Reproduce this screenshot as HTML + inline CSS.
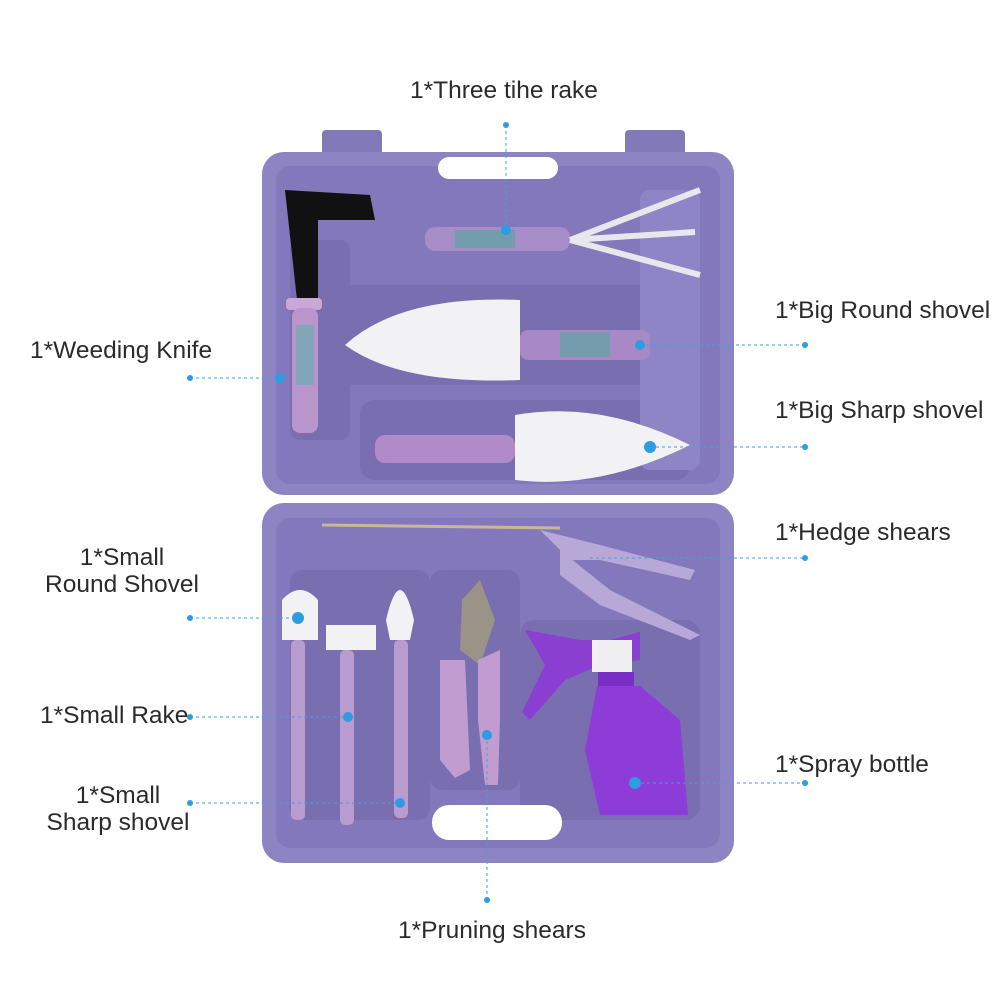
<!DOCTYPE html>
<html><head><meta charset="utf-8"><style>
html,body{margin:0;padding:0;background:#fff;}
.wrap{position:relative;width:1000px;height:1000px;overflow:hidden;font-family:"Liberation Sans",Arial,sans-serif;}
.lb{position:absolute;font-size:24.5px;color:#2b2b2b;line-height:27px;white-space:nowrap;}
</style></head><body><div class="wrap">
<svg width="1000" height="1000" viewBox="0 0 1000 1000" style="position:absolute;left:0;top:0">
<rect x="322" y="130" width="60" height="40" rx="4" fill="#8279b8"/>
<rect x="625" y="130" width="60" height="40" rx="4" fill="#8279b8"/>
<rect x="262" y="152" width="472" height="343" rx="22" fill="#8d84c4"/>
<rect x="276" y="166" width="444" height="318" rx="14" fill="#8278bb"/>
<rect x="438" y="157" width="120" height="22" rx="11" fill="#fff"/>
<rect x="290" y="240" width="60" height="200" rx="10" fill="#786eb0"/>
<rect x="335" y="285" width="340" height="100" rx="18" fill="#786eb0"/>
<rect x="360" y="400" width="330" height="80" rx="14" fill="#786eb0"/>
<rect x="640" y="190" width="60" height="280" rx="10" fill="#8e85c6"/>
<rect x="262" y="503" width="472" height="360" rx="22" fill="#8d84c4"/>
<rect x="276" y="518" width="444" height="330" rx="14" fill="#8278bb"/>
<rect x="290" y="570" width="140" height="250" rx="12" fill="#786eb0"/>
<rect x="430" y="570" width="90" height="220" rx="12" fill="#786eb0"/>
<rect x="520" y="620" width="180" height="200" rx="14" fill="#786eb0"/>
<rect x="432" y="805" width="130" height="35" rx="17" fill="#fff"/>
<path d="M285 190 L370 195 L375 220 L318 220 L318 300 L297 300 Z" fill="#111"/>
<rect x="286" y="298" width="36" height="12" rx="4" fill="#c9a8d8"/>
<rect x="292" y="308" width="26" height="125" rx="8" fill="#b896cc"/>
<rect x="296" y="325" width="18" height="60" fill="#5ab0a8" opacity=".6"/>
<rect x="425" y="227" width="145" height="24" rx="10" fill="#a88cc8"/>
<rect x="455" y="230" width="60" height="18" fill="#4fa89a" opacity=".6"/>
<path d="M570 240 L700 190 M570 240 L695 232 M570 240 L700 275" stroke="#e8e8ec" stroke-width="6" fill="none"/>
<path d="M345 345 Q400 295 520 300 L520 380 Q400 385 345 345 Z" fill="#f2f2f5"/>
<rect x="520" y="330" width="130" height="30" rx="8" fill="#a889c6"/>
<rect x="560" y="332" width="50" height="25" fill="#53a99b" opacity=".6"/>
<path d="M515 415 Q600 400 690 445 Q600 490 515 480 Z" fill="#f2f2f5"/>
<rect x="375" y="435" width="140" height="28" rx="10" fill="#b08bc8"/>
<line x1="322" y1="525" x2="560" y2="528" stroke="#c8b89a" stroke-width="3"/>
<path d="M540 530 L600 545 L695 570 L690 580 L600 560 L570 560 Z" fill="#b7a8d8"/>
<path d="M560 550 L610 590 L700 635 L690 640 L600 605 L560 575 Z" fill="#b7a8d8"/>
<path d="M282 600 Q300 580 318 600 L318 640 L282 640 Z" fill="#f2f2f5"/>
<rect x="291" y="640" width="14" height="180" rx="5" fill="#b89ccf"/>
<rect x="326" y="625" width="50" height="25" fill="#f2f2f5"/>
<rect x="340" y="650" width="14" height="175" rx="5" fill="#b89ccf"/>
<path d="M386 620 Q400 560 414 620 L410 640 L390 640 Z" fill="#f2f2f5"/>
<rect x="394" y="640" width="14" height="178" rx="5" fill="#b89ccf"/>
<path d="M462 600 L480 580 L495 620 L480 665 L460 650 Z" fill="#9a9488"/>
<path d="M440 660 L465 660 L470 770 L455 778 L440 760 Z" fill="#c19cd0"/>
<path d="M478 660 L500 650 L500 720 L498 785 L485 785 L478 720 Z" fill="#c19cd0"/>
<path d="M525 630 L580 640 L610 640 L640 632 L640 660 L600 665 L565 680 L530 720 L522 712 L545 665 Z" fill="#8a3fd0"/>
<rect x="592" y="640" width="40" height="32" fill="#f0f0f2"/>
<rect x="598" y="672" width="36" height="14" fill="#7a2ec8"/>
<path d="M597 686 L640 686 L680 720 L688 815 L600 815 L585 750 Z" fill="#8e3cd8"/>
<g stroke="#3aa3dc" stroke-width="1" stroke-dasharray="3,3" fill="none">
<line x1="506" y1="125" x2="506" y2="230"/>
<line x1="190" y1="378" x2="280" y2="378"/>
<line x1="640" y1="345" x2="805" y2="345"/>
<line x1="650" y1="447" x2="805" y2="447"/>
<line x1="590" y1="558" x2="805" y2="558"/>
<line x1="190" y1="618" x2="298" y2="618"/>
<line x1="190" y1="717" x2="348" y2="717"/>
<line x1="190" y1="803" x2="400" y2="803"/>
<line x1="635" y1="783" x2="805" y2="783"/>
<line x1="487" y1="735" x2="487" y2="900"/>
</g>
<g fill="#2c9de0">
<circle cx="506" cy="125" r="3"/><circle cx="506" cy="230" r="5"/>
<circle cx="190" cy="378" r="3"/><circle cx="280" cy="378" r="5"/>
<circle cx="640" cy="345" r="5"/><circle cx="805" cy="345" r="3"/>
<circle cx="650" cy="447" r="6"/><circle cx="805" cy="447" r="3"/>
<circle cx="805" cy="558" r="3"/>
<circle cx="190" cy="618" r="3"/><circle cx="298" cy="618" r="6"/>
<circle cx="190" cy="717" r="3"/><circle cx="348" cy="717" r="5"/>
<circle cx="190" cy="803" r="3"/><circle cx="400" cy="803" r="5"/>
<circle cx="635" cy="783" r="6"/><circle cx="805" cy="783" r="3"/>
<circle cx="487" cy="735" r="5"/><circle cx="487" cy="900" r="3"/>
</g>
</svg>
<div class="lb" style="left:410px;top:77px">1*Three tihe rake</div>
<div class="lb" style="left:30px;top:337px">1*Weeding Knife</div>
<div class="lb" style="left:775px;top:297px">1*Big Round shovel</div>
<div class="lb" style="left:775px;top:397px">1*Big Sharp shovel</div>
<div class="lb" style="left:775px;top:519px">1*Hedge shears</div>
<div class="lb" style="left:42px;top:544px;text-align:center;width:160px">1*Small<br>Round Shovel</div>
<div class="lb" style="left:40px;top:702px">1*Small Rake</div>
<div class="lb" style="left:38px;top:782px;text-align:center;width:160px">1*Small<br>Sharp shovel</div>
<div class="lb" style="left:775px;top:751px">1*Spray bottle</div>
<div class="lb" style="left:398px;top:917px">1*Pruning shears</div>
</div></body></html>
